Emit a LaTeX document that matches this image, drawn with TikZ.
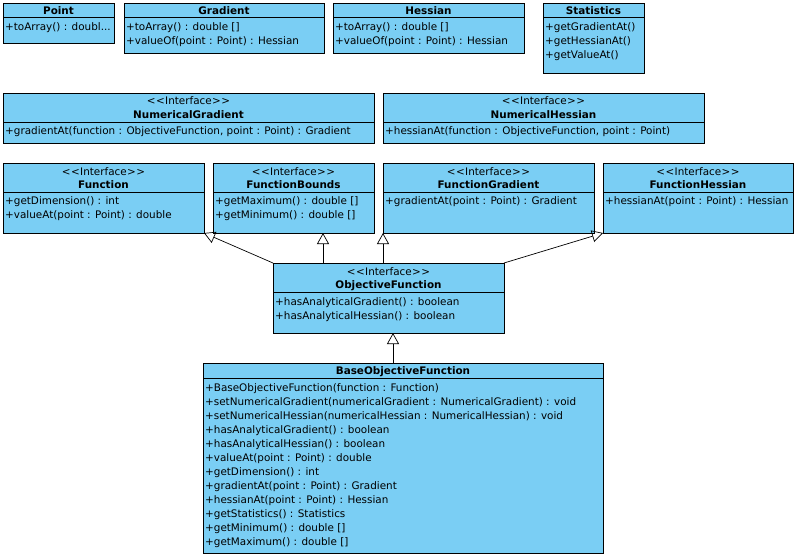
\documentclass[tikz,border=0pt]{standalone}
\usepackage{fontspec}
\setmainfont{DejaVu Sans}
\usetikzlibrary{arrows.meta}
\definecolor{boxblue}{RGB}{122,206,244}
\newcommand\stereotxt{<\kern0.6pt<\kern0.3pt Interface\kern0.3pt>\kern0.6pt>}
\tikzset{
  cls/.style={draw=black, fill=boxblue, line width=0.9pt, anchor=north west, inner sep=0pt, outer sep=0pt},
  ttl/.style={font=\fontsize{10.4}{12}\selectfont\bfseries, anchor=base, inner sep=0pt},
  stereo/.style={font=\fontsize{10.4}{12}\selectfont, anchor=base, inner sep=0pt},
  mem/.style={font=\fontsize{10.4}{12}\selectfont, anchor=base west, inner sep=0pt},
  sep/.style={line width=0.9pt},
  inh/.style={line width=0.7pt, -{Triangle[open, length=11pt, width=12pt]}}
}
\begin{document}
\begin{tikzpicture}[x=1pt,y=-1pt]
\useasboundingbox (0,0) rectangle (796,558);
% Point
\node[cls, minimum width=111pt, minimum height=40pt] (pt) at (3,3) {};
\draw[sep] (3,17) -- (114,17);
\node[ttl] (ptt) at (58.5,14) {Point};
\node[mem] (ptm1) at (5,30) {+toArray() : doubl...};
% Gradient
\node[cls, minimum width=200pt, minimum height=50pt] (gr) at (124,3) {};
\draw[sep] (124,17) -- (324,17);
\node[ttl] (grt) at (224,14) {Gradient};
\node[mem] (grm1) at (126,30) {+toArray() : double []};
\node[mem] (grm2) at (126,44) {+valueOf(point : Point) : Hessian};
% Hessian
\node[cls, minimum width=191pt, minimum height=50pt] (he) at (333,3) {};
\draw[sep] (333,17) -- (524,17);
\node[ttl] (het) at (428.5,14) {Hessian};
\node[mem] (hem1) at (335,30) {+toArray() : double []};
\node[mem] (hem2) at (335,44) {+valueOf(point : Point) : Hessian};
% Statistics
\node[cls, minimum width=101pt, minimum height=70pt] (st) at (543,3) {};
\draw[sep] (543,17) -- (644,17);
\node[ttl] (stt) at (593.5,14) {Statistics};
\node[mem] (stm1) at (545,30) {+getGradientAt()};
\node[mem] (stm2) at (545,44) {+getHessianAt()};
\node[mem] (stm3) at (545,58) {+getValueAt()};
% NumericalGradient
\node[cls, minimum width=371pt, minimum height=50pt] (ng) at (3,93) {};
\draw[sep] (3,122) -- (374,122);
\node[stereo] (ngs) at (188.5,104) {\stereotxt};
\node[ttl] (ngt) at (188.5,118) {NumericalGradient};
\node[mem] (ngm1) at (5,134) {+gradientAt(function : ObjectiveFunction, point : Point) : Gradient};
% NumericalHessian
\node[cls, minimum width=321pt, minimum height=50pt] (nh) at (383,93) {};
\draw[sep] (383,122) -- (704,122);
\node[stereo] (nhs) at (543.5,104) {\stereotxt};
\node[ttl] (nht) at (543.5,118) {NumericalHessian};
\node[mem] (nhm1) at (385,134) {+hessianAt(function : ObjectiveFunction, point : Point)};
% Function
\node[cls, minimum width=201pt, minimum height=70pt] (fn) at (3,163) {};
\draw[sep] (3,192) -- (204,192);
\node[stereo] (fns) at (103.5,175) {\stereotxt};
\node[ttl] (fnt) at (103.5,188) {Function};
\node[mem] (fnm1) at (5,204) {+getDimension() : int};
\node[mem] (fnm2) at (5,218) {+valueAt(point : Point) : double};
% FunctionBounds
\node[cls, minimum width=161pt, minimum height=70pt] (fb) at (213,163) {};
\draw[sep] (213,192) -- (374,192);
\node[stereo] (fbs) at (293.5,175) {\stereotxt};
\node[ttl] (fbt) at (293.5,188) {FunctionBounds};
\node[mem] (fbm1) at (215,204) {+getMaximum() : double []};
\node[mem] (fbm2) at (215,218) {+getMinimum() : double []};
% FunctionGradient
\node[cls, minimum width=211pt, minimum height=70pt] (fg) at (383,163) {};
\draw[sep] (383,192) -- (594,192);
\node[stereo] (fgs) at (488.5,175) {\stereotxt};
\node[ttl] (fgt) at (488.5,188) {FunctionGradient};
\node[mem] (fgm1) at (385,204) {+gradientAt(point : Point) : Gradient};
% FunctionHessian
\node[cls, minimum width=190pt, minimum height=70pt] (fh) at (603,163) {};
\draw[sep] (603,192) -- (793,192);
\node[stereo] (fhs) at (698,175) {\stereotxt};
\node[ttl] (fht) at (698,188) {FunctionHessian};
\node[mem] (fhm1) at (605,204) {+hessianAt(point : Point) : Hessian};
% ObjectiveFunction
\node[cls, minimum width=231pt, minimum height=70pt] (of) at (273,263) {};
\draw[sep] (273,292) -- (504,292);
\node[stereo] (ofs) at (388.5,275) {\stereotxt};
\node[ttl] (oft) at (388.5,288) {ObjectiveFunction};
\node[mem] (ofm1) at (275,305) {+hasAnalyticalGradient() : boolean};
\node[mem] (ofm2) at (275,319) {+hasAnalyticalHessian() : boolean};
% BaseObjectiveFunction
\node[cls, minimum width=400pt, minimum height=190pt] (bof) at (203,363) {};
\draw[sep] (203,378) -- (603,378);
\node[ttl] (boft) at (403,374) {BaseObjectiveFunction};
\node[mem] (bm1) at (205,391) {+BaseObjectiveFunction(function : Function)};
\node[mem] (bm2) at (205,405) {+setNumericalGradient(numericalGradient : NumericalGradient) : void};
\node[mem] (bm3) at (205,419) {+setNumericalHessian(numericalHessian : NumericalHessian) : void};
\node[mem] (bm4) at (205,433) {+hasAnalyticalGradient() : boolean};
\node[mem] (bm5) at (205,447) {+hasAnalyticalHessian() : boolean};
\node[mem] (bm6) at (205,461) {+valueAt(point : Point) : double};
\node[mem] (bm7) at (205,475) {+getDimension() : int};
\node[mem] (bm8) at (205,489) {+gradientAt(point : Point) : Gradient};
\node[mem] (bm9) at (205,503) {+hessianAt(point : Point) : Hessian};
\node[mem] (bm10) at (205,517) {+getStatistics() : Statistics};
\node[mem] (bm11) at (205,531) {+getMinimum() : double []};
\node[mem] (bm12) at (205,545) {+getMaximum() : double []};
% inheritance
\draw[inh] (of.north west) -- (fn.south east);
\draw[inh] ([xshift=50pt]of.north west) -- ([xshift=50pt]of.north west |- fb.south);
\draw[inh] ([xshift=110pt]of.north west) -- (fg.south west);
\draw[inh] (of.north east) -- (fh.south west);
\draw[inh] ([xshift=190pt]bof.north west) -- ([xshift=190pt]bof.north west |- of.south);
\end{tikzpicture}
\end{document}
